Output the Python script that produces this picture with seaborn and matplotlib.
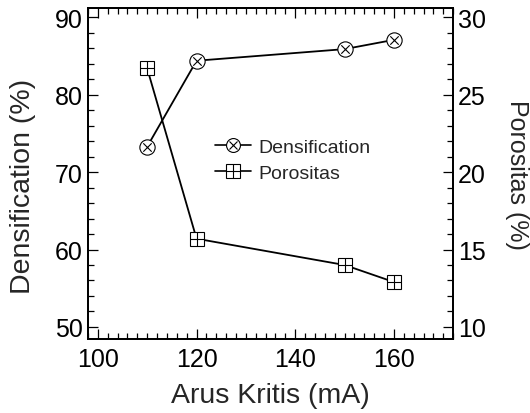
import matplotlib
matplotlib.use("Agg")
import matplotlib.pyplot as plt
import seaborn as sns
import pandas as pd
from matplotlib.ticker import MultipleLocator
from matplotlib.lines import Line2D
from matplotlib.legend_handler import HandlerTuple

arus = [110, 120, 150, 160]
densification = [73.3, 84.4, 85.9, 87.1]
porositas = [26.7, 15.7, 14.0, 12.9]

sns.set_theme(style="white")
plt.rcParams['font.family'] = ['Liberation Sans', 'DejaVu Sans']

fig = plt.figure(figsize=(5.30, 4.14), dpi=100)
ax = fig.add_axes([0.166, 0.179, 0.689, 0.799])
ax2 = ax.twinx()

df = pd.DataFrame({"arus": arus, "dens": densification, "por": porositas})

ms = 11
ms_leg = 10
sns.lineplot(data=df, x="arus", y="dens", ax=ax, color="black", lw=1.3,
             marker="o", markersize=ms, markerfacecolor="white",
             markeredgecolor="black", markeredgewidth=0.8, zorder=3)
sns.scatterplot(data=df, x="arus", y="dens", ax=ax, marker="x", s=(ms * 0.55) ** 2,
                color="black", linewidth=0.8, zorder=4)
sns.lineplot(data=df, x="arus", y="por", ax=ax2, color="black", lw=1.3,
             marker="s", markersize=ms * 0.95, markerfacecolor="white",
             markeredgecolor="black", markeredgewidth=0.8, zorder=3)
sns.scatterplot(data=df, x="arus", y="por", ax=ax2, marker="+", s=(ms * 0.95) ** 2,
                color="black", linewidth=0.8, zorder=4)

ax.set_xlim(98, 172)
ax.set_ylim(48.45, 91.2)
ax2.set_ylim(9.225, 30.6)

fs_tick = 18
ax.set_xlabel("Arus Kritis (mA)", fontsize=20.5, labelpad=8)
ax.set_ylabel("Densification (%)", fontsize=20.5)
ax2.set_ylabel("Porositas (%)", fontsize=18, rotation=270, va="bottom")
ax.yaxis.set_label_coords(-0.141, 0.465)
ax2.yaxis.set_label_coords(1.143, 0.50)

ax.xaxis.set_major_locator(MultipleLocator(20))
ax.xaxis.set_minor_locator(MultipleLocator(2))
ax.yaxis.set_major_locator(MultipleLocator(10))
ax.yaxis.set_minor_locator(MultipleLocator(2))
ax2.yaxis.set_major_locator(MultipleLocator(5))
ax2.yaxis.set_minor_locator(MultipleLocator(1))

ax.tick_params(axis="x", which="both", direction="in", top=True, bottom=True,
               labelsize=fs_tick, colors="black")
ax.tick_params(axis="y", which="both", direction="in", left=True, right=False,
               labelsize=fs_tick, colors="black")
ax2.tick_params(axis="y", which="both", direction="in", right=True, left=False,
                labelsize=fs_tick, colors="black")
ax.tick_params(axis="x", which="major", pad=6)
for a in (ax, ax2):
    a.tick_params(which="major", length=7, width=0.9)
    a.tick_params(which="minor", length=4, width=0.9)
    for s in a.spines.values():
        s.set_color("black")
        s.set_linewidth(1.3)
ax2.grid(False)
ax.grid(False)

h1 = (Line2D([], [], color="black", lw=1.2, marker="o", markersize=ms_leg,
             markerfacecolor="white", markeredgecolor="black", markeredgewidth=0.8),
      Line2D([], [], color="black", lw=0, marker="x", markersize=ms_leg * 0.55,
             markeredgewidth=0.8))
h2 = (Line2D([], [], color="black", lw=1.2, marker="s", markersize=ms_leg * 0.95,
             markerfacecolor="white", markeredgecolor="black", markeredgewidth=0.8),
      Line2D([], [], color="black", lw=0, marker="+", markersize=ms_leg * 0.95,
             markeredgewidth=0.8))
ax2.legend([h1, h2], ["Densification", "Porositas"],
           handler_map={tuple: HandlerTuple(ndivide=1)},
           loc="center left", bbox_to_anchor=(0.30, 0.54), frameon=False,
           fontsize=14, handlelength=1.85, handletextpad=0.4, labelspacing=0.45)

fig.savefig("out.png", dpi=100)
